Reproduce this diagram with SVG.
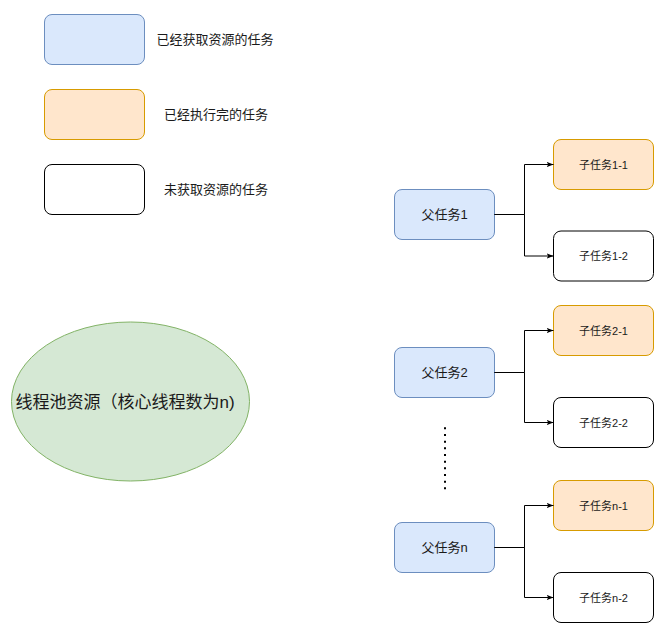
<svg xmlns="http://www.w3.org/2000/svg" width="668" height="631" viewBox="0 0 668 631">
<style>
text{font-family:"Liberation Sans","Noto Sans CJK SC",sans-serif;fill:#1a1a1a;text-anchor:middle;dominant-baseline:central}
.blue{fill:#dae8fc;stroke:#6c8ebf;stroke-width:1}
.orange{fill:#ffe6cc;stroke:#d79b00;stroke-width:1}
.white{fill:#ffffff;stroke:#000000;stroke-width:1}
.lg{font-size:13px}
.pt{font-size:13px}
.ct{font-size:11px}
.conn{fill:none;stroke:#000000;stroke-width:1}
</style>
<defs>
<marker id="arr" viewBox="0 0 10 10" refX="10" refY="5" markerWidth="7" markerHeight="7" markerUnits="userSpaceOnUse" orient="auto">
<path d="M0,1 L10,5 L0,9 L2.5,5 Z" fill="#000"/>
</marker>
</defs>
<rect width="668" height="631" fill="#ffffff"/>
<g id="legend-blue"><rect class="blue" x="44.5" y="14.5" width="100" height="50" rx="7.5"/><text class="lg" x="215" y="39">已经获取资源的任务</text></g>
<g id="legend-orange"><rect class="orange" x="44.5" y="89.5" width="100" height="50" rx="7.5"/><text class="lg" x="216" y="114">已经执行完的任务</text></g>
<g id="legend-white"><rect class="white" x="44.5" y="164.5" width="100" height="50" rx="7.5"/><text class="lg" x="216" y="189">未获取资源的任务</text></g>
<g id="pool"><ellipse cx="130.5" cy="401.5" rx="119" ry="79.5" fill="#d5e8d4" stroke="#82b366"/><text x="125" y="402" font-size="17">线程池资源（核心线程数为n)</text></g>
<g id="parent1"><rect class="blue" x="394.5" y="189.5" width="100" height="50" rx="7.5"/><text class="pt" x="444.5" y="214.5">父任务1</text></g>
<g id="child1-1"><rect class="orange" x="553.5" y="139.5" width="100" height="50" rx="7.5"/><text class="ct" x="603.5" y="164.5">子任务1-1</text></g>
<g id="child1-2"><rect class="white" x="553.5" y="231" width="100" height="50" rx="7.5"/><text class="ct" x="603.5" y="256">子任务1-2</text></g>
<g id="parent2"><rect class="blue" x="394.5" y="347.5" width="100" height="50" rx="7.5"/><text class="pt" x="444.5" y="372.5">父任务2</text></g>
<g id="child2-1"><rect class="orange" x="553.5" y="305.5" width="100" height="50" rx="7.5"/><text class="ct" x="603.5" y="330.5">子任务2-1</text></g>
<g id="child2-2"><rect class="white" x="553.5" y="397.5" width="100" height="50" rx="7.5"/><text class="ct" x="603.5" y="422.5">子任务2-2</text></g>
<g id="parentn"><rect class="blue" x="394.5" y="522.5" width="100" height="50" rx="7.5"/><text class="pt" x="444.5" y="547.5">父任务n</text></g>
<g id="childn-1"><rect class="orange" x="553.5" y="480.5" width="100" height="50" rx="7.5"/><text class="ct" x="603.5" y="505.5">子任务n-1</text></g>
<g id="childn-2"><rect class="white" x="553.5" y="572.5" width="100" height="50" rx="7.5"/><text class="ct" x="603.5" y="597.5">子任务n-2</text></g>
<g id="connectors">
<path class="conn" d="M494.5,214.5 H524.5 V164.5 H553.5" marker-end="url(#arr)"/>
<path class="conn" d="M494.5,214.5 H524.5 V256 H553.5" marker-end="url(#arr)"/>
<path class="conn" d="M494.5,372.5 H524.5 V330.5 H553.5" marker-end="url(#arr)"/>
<path class="conn" d="M494.5,372.5 H524.5 V422.5 H553.5" marker-end="url(#arr)"/>
<path class="conn" d="M494.5,547.5 H524.5 V505.5 H553.5" marker-end="url(#arr)"/>
<path class="conn" d="M494.5,547.5 H524.5 V597.5 H553.5" marker-end="url(#arr)"/>
<line x1="445" y1="427.3" x2="445" y2="490" stroke="#000" stroke-width="2" stroke-dasharray="2 4.67"/>
</g>
</svg>
